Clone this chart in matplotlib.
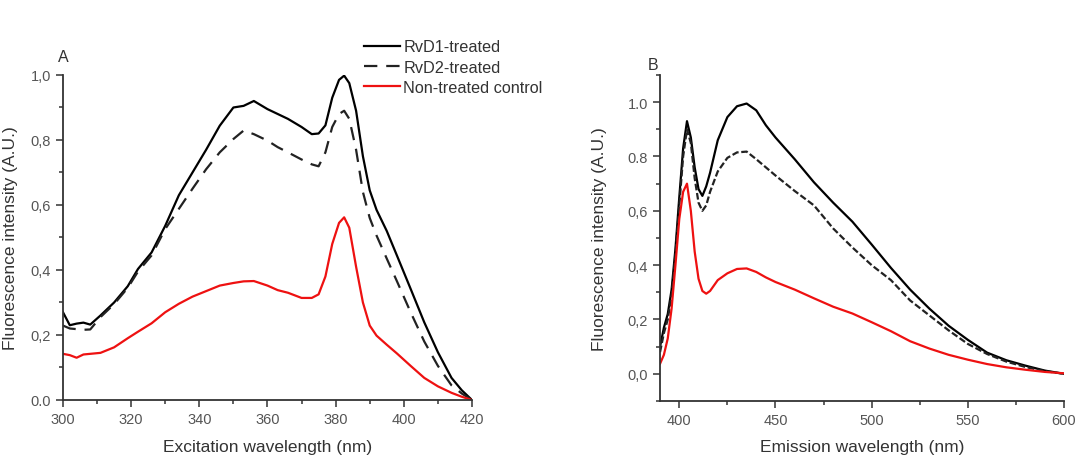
import numpy as np
import matplotlib
matplotlib.use('Agg')
import matplotlib.pyplot as plt
from matplotlib.ticker import MultipleLocator

plt.rcParams['font.family'] = ['Liberation Sans', 'DejaVu Sans']

# panel A: excitation spectra
ex_wl = [300, 302, 304, 306, 308, 311, 315, 319, 322, 326, 330, 334, 338, 342,
         346, 350, 353, 356, 360, 363, 366, 370, 373, 375, 377, 379, 381, 382.5,
         384, 386, 388, 390, 392, 395, 398, 402, 406, 410, 414, 417, 420]
ex_rvd1 = [0.27, 0.23, 0.235, 0.238, 0.232, 0.26, 0.30, 0.35, 0.403, 0.454,
           0.536, 0.63, 0.70, 0.77, 0.844, 0.90, 0.905, 0.92, 0.895, 0.88,
           0.865, 0.84, 0.818, 0.82, 0.845, 0.93, 0.985, 0.998, 0.975, 0.89,
           0.75, 0.645, 0.585, 0.52, 0.444, 0.342, 0.239, 0.147, 0.068, 0.03,
           0.0]
ex_rvd2 = [0.229, 0.22, 0.218, 0.216, 0.217, 0.255, 0.295, 0.345, 0.395,
           0.445, 0.526, 0.588, 0.65, 0.71, 0.762, 0.803, 0.829, 0.818, 0.798,
           0.778, 0.762, 0.74, 0.725, 0.719, 0.762, 0.84, 0.88, 0.89, 0.865,
           0.77, 0.64, 0.56, 0.506, 0.435, 0.365, 0.27, 0.18, 0.105, 0.045,
           0.02, 0.0]
ex_ctrl = [0.142, 0.138, 0.13, 0.14, 0.142, 0.145, 0.162, 0.19, 0.21, 0.236,
           0.27, 0.296, 0.318, 0.335, 0.352, 0.36, 0.365, 0.366, 0.352, 0.338,
           0.33, 0.314, 0.314, 0.325, 0.38, 0.48, 0.545, 0.562, 0.53, 0.41,
           0.30, 0.229, 0.198, 0.17, 0.143, 0.105, 0.068, 0.042, 0.022, 0.01,
           0.0]

# panel B: emission spectra
em_wl = [390, 392, 394, 396, 398, 400, 402, 404, 406, 408, 410, 412, 414, 416,
         420, 425, 430, 435, 440, 445, 450, 460, 470, 480, 490, 500, 510, 520,
         530, 540, 550, 560, 570, 580, 590, 600]
em_rvd1 = [0.10, 0.17, 0.22, 0.31, 0.46, 0.65, 0.83, 0.93, 0.87, 0.76, 0.68,
           0.655, 0.69, 0.74, 0.86, 0.945, 0.985, 0.995, 0.97, 0.915, 0.87,
           0.79, 0.705, 0.63, 0.56, 0.476, 0.39, 0.31, 0.24, 0.177, 0.125,
           0.078, 0.05, 0.03, 0.012, 0.0]
em_rvd2 = [0.08, 0.15, 0.20, 0.29, 0.44, 0.62, 0.80, 0.90, 0.85, 0.72, 0.63,
           0.60, 0.62, 0.67, 0.745, 0.795, 0.815, 0.818, 0.79, 0.76, 0.73,
           0.673, 0.62, 0.535, 0.465, 0.40, 0.345, 0.27, 0.215, 0.16, 0.11,
           0.073, 0.045, 0.025, 0.01, 0.0]
em_ctrl = [0.037, 0.07, 0.13, 0.24, 0.40, 0.57, 0.67, 0.70, 0.60, 0.45, 0.35,
           0.305, 0.295, 0.305, 0.345, 0.37, 0.386, 0.388, 0.375, 0.355, 0.338,
           0.31, 0.278, 0.247, 0.222, 0.19, 0.157, 0.12, 0.093, 0.07, 0.052,
           0.036, 0.024, 0.015, 0.007, 0.002]

labels = ['RvD1-treated', 'RvD2-treated', 'Non-treated control']
ytick_a = ['0.0', '0,2', '0,4', '0,6', '0,8', '1,0']
ytick_b = ['0,0', '0,2', '0,4', '0,6', '0.8', '1.0']

txt = '#333333'
tick_c = '#555555'

fig = plt.figure(figsize=(10.84, 4.6), dpi=100)
ax1 = fig.add_axes([0.0581, 0.1283, 0.3773, 0.7065])
ax2 = fig.add_axes([0.6089, 0.1261, 0.3727, 0.7087])

for ax, x, s1, s2, s3, dash in [(ax1, ex_wl, ex_rvd1, ex_rvd2, ex_ctrl, (6, 4)),
                                (ax2, em_wl, em_rvd1, em_rvd2, em_ctrl, (3, 1.2))]:
    ax.plot(x, s1, color='black', lw=1.6, label=labels[0])
    ax.plot(x, s2, color='#222222', lw=1.6, ls=(0, dash), label=labels[1])
    ax.plot(x, s3, color='#ee1111', lw=1.6, label=labels[2])
    for side in ['top', 'right']:
        ax.spines[side].set_visible(False)
    for side in ['left', 'bottom']:
        ax.spines[side].set_color('#333333')
        ax.spines[side].set_linewidth(1.3)
    ax.tick_params(which='major', direction='out', length=5, width=1.1,
                   color='#333333', labelsize=10.5, labelcolor=tick_c)
    ax.tick_params(which='minor', direction='out', length=3, width=1.1,
                   color='#333333')
    ax.set_ylabel('Fluorescence intensity (A.U.)', fontsize=12.5, color=txt)

ax1.set_xlim(300, 420)
ax1.set_ylim(0, 1.0)
ax1.xaxis.set_major_locator(MultipleLocator(20))
ax1.xaxis.set_minor_locator(MultipleLocator(10))
ax1.set_yticks([0, 0.2, 0.4, 0.6, 0.8, 1.0])
ax1.set_yticklabels(ytick_a)
ax1.yaxis.set_minor_locator(MultipleLocator(0.1))
ax1.set_xlabel('Excitation wavelength (nm)', fontsize=12.5, color=txt)
ax1.xaxis.set_label_coords(0.5, -0.12)
ax1.yaxis.set_label_coords(-0.11, 0.5)

ax2.set_xlim(390, 600)
ax2.set_ylim(-0.1, 1.1)
ax2.xaxis.set_major_locator(MultipleLocator(50))
ax2.xaxis.set_minor_locator(MultipleLocator(25))
ax2.set_yticks([0, 0.2, 0.4, 0.6, 0.8, 1.0])
ax2.set_yticklabels(ytick_b)
ax2.yaxis.set_minor_locator(MultipleLocator(0.1))
ax2.set_xlabel('Emission wavelength (nm)', fontsize=12.5, color=txt)
ax2.xaxis.set_label_coords(0.5, -0.117)
ax2.yaxis.set_label_coords(-0.131, 0.5)

fig.text(0.058, 0.876, 'A', fontsize=11.5, color=txt, ha='center', va='center')
fig.text(0.602, 0.857, 'B', fontsize=11.5, color=txt, ha='center', va='center')

handles = ax1.get_lines()
fig.legend(handles, labels, loc='upper left', bbox_to_anchor=(0.336, 0.912),
           frameon=False, fontsize=11.7, handlelength=2.2, handletextpad=0.2,
           labelspacing=0.32, borderpad=0, borderaxespad=0, labelcolor=txt)

fig.savefig('out.png', dpi=100)
